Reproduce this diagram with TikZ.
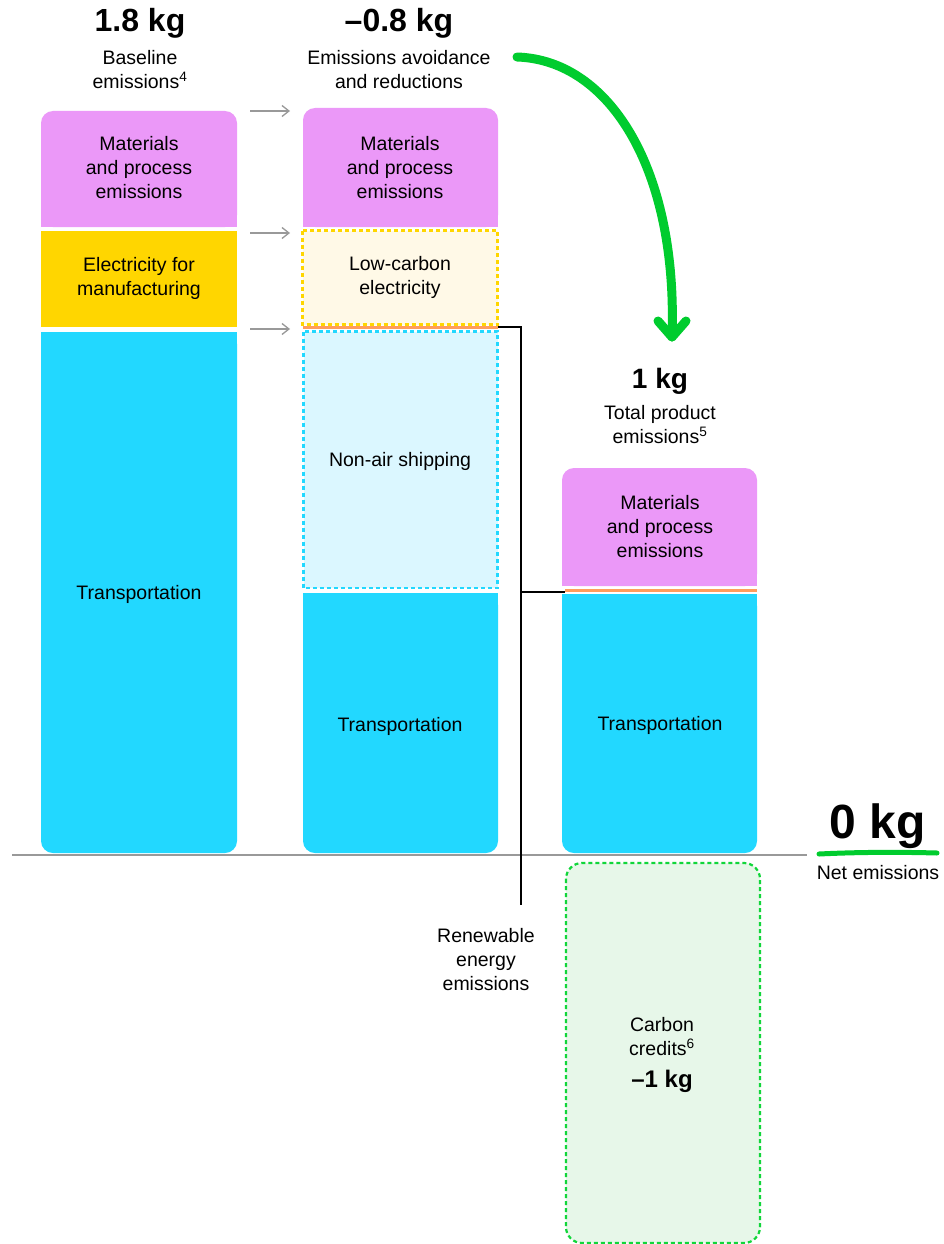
\documentclass[tikz,border=0pt]{standalone}
\usepackage{fontspec}
\setmainfont{Liberation Sans}
\usetikzlibrary{arrows.meta}
\definecolor{pinkc}{HTML}{EB98F8}
\definecolor{yellowc}{HTML}{FFD600}
\definecolor{cyanc}{HTML}{22D8FF}
\definecolor{lyellow}{HTML}{FFF9E7}
\definecolor{lcyan}{HTML}{DBF7FF}
\definecolor{orangec}{HTML}{FF9D5C}
\definecolor{greenc}{HTML}{00CC2E}
\definecolor{lgreen}{HTML}{E7F7E9}
\definecolor{dgreen}{HTML}{11D63A}
\definecolor{grayc}{HTML}{999999}
\begin{document}
\begin{tikzpicture}[x=1pt,y=-1pt,
  lbl/.style={align=center,font=\fontsize{19.5}{24}\selectfont,text=black,inner sep=0pt},
  hdr/.style={align=center,font=\fontsize{32}{36}\bfseries\selectfont,inner sep=0pt},
  sub/.style={align=center,font=\fontsize{19.5}{24}\selectfont,inner sep=0pt},
  grayarrow/.style={draw=grayc,line width=1.3,-{Straight Barb[length=7,width=11]}},
  bracket/.style={draw=black,line width=1.3},
  dashbox/.style={line width=2.2,dash pattern=on 4 off 3}]
\useasboundingbox (0,0) rectangle (943,1244);
\fill[white] (0,0) rectangle (943,1244);

% ---- column 1 ----
\fill[pinkc,rounded corners=12] (41,111) rectangle (237,227);
\fill[pinkc] (41,150) rectangle (237,227);
\fill[yellowc] (41,231) rectangle (237,327);
\fill[cyanc,rounded corners=12] (41,332) rectangle (237,853);
\fill[cyanc] (41,332) rectangle (237,800);
\node[lbl] (m1) at (139,168) {Materials\\and process\\emissions};
\node[lbl] (e1) at (139,278) {Electricity for\\manufacturing};
\node[lbl] (t1) at (139,594) {Transportation};

% ---- column 2 ----
\fill[pinkc,rounded corners=12] (303,108) rectangle (498,227);
\fill[pinkc] (303,150) rectangle (498,227);
\filldraw[fill=lyellow,draw=yellowc,dashbox] (302.5,230.5) rectangle (497.5,324.5);
\fill[orangec] (303,325.5) rectangle (498,328.5);
\filldraw[fill=lcyan,draw=cyanc,dashbox] (303.5,331.5) rectangle (497.5,588);
\fill[cyanc,rounded corners=12] (303,593) rectangle (498,853);
\fill[cyanc] (303,593) rectangle (498,800);
\node[lbl] (m2) at (400,168) {Materials\\and process\\emissions};
\node[lbl] (l2) at (400,277) {Low-carbon\\electricity};
\node[lbl] (n2) at (400,461) {Non-air shipping};
\node[lbl] (t2) at (400,726) {Transportation};

% ---- column 3 ----
\fill[pinkc,rounded corners=12] (562,468) rectangle (757,586);
\fill[pinkc] (562,510) rectangle (757,586);
\fill[orangec] (565,589) rectangle (757,592);
\fill[cyanc,rounded corners=12] (562,594) rectangle (757,853);
\fill[cyanc] (562,594) rectangle (757,800);
\node[lbl] (m3) at (660,527) {Materials\\and process\\emissions};
\node[lbl] (t3) at (660,725) {Transportation};

% ---- carbon credits ----
\filldraw[fill=lgreen,draw=dgreen,dashbox,rounded corners=16] (566,863) rectangle (760,1243);
\node[lbl] (cc) at (662,1037) {Carbon\\credits\textsuperscript{6}};
\node[inner sep=0pt,font=\fontsize{24}{28}\bfseries\selectfont] (cckg) at (662,1081) {–1 kg};

% ---- baseline ----
\coordinate (bl0) at (12,855);
\coordinate (bl1) at (807,855);
\draw[grayc,line width=1.3] (bl0) -- (bl1);

% ---- headers ----
\node[hdr] (h1) at (140,23) {1.8 kg};
\node[sub] (s1) at (140,70) {Baseline\\emissions\textsuperscript{4}};
\node[hdr] (h2) at (399,23) {–0.8 kg};
\node[sub] (s2) at (399,70) {Emissions avoidance\\and reductions};
\node[inner sep=0pt,font=\fontsize{28}{32}\bfseries\selectfont] (h3) at (660,381) {1 kg};
\node[sub] (s3) at (660,425) {Total product\\emissions\textsuperscript{5}};

% ---- 0 kg ----
\node[inner sep=0pt,font=\fontsize{48}{52}\bfseries\selectfont] (zero) at (878,826) {0 kg};
\coordinate (u0) at (819,854);
\coordinate (u1) at (937,853);
\draw[greenc,line width=5,line cap=round] (u0) .. controls (860,852) and (900,852) .. (u1);
\node[inner sep=0pt,font=\fontsize{19.5}{22}\selectfont] (net) at (878,873) {Net emissions};

% ---- gray arrows ----
\foreach \yy/\nm in {111/a,233/b,329/c}{
  \coordinate (ga\nm) at (250,\yy);
  \coordinate (gb\nm) at (290,\yy);
  \draw[grayarrow] (ga\nm) -- (gb\nm);
}

% ---- renewable bracket ----
\coordinate (or2) at (498,327);
\coordinate (br1) at (521,327);
\coordinate (br2) at (521,592);
\coordinate (br3) at (521,905);
\coordinate (or3) at (565,592);
\draw[bracket] (or2) -- (br1) -- (br3);
\draw[bracket] (br2) -- (or3);
\node[lbl] (ren) at (486,960) {Renewable\\energy\\emissions};

% ---- green curved arrow ----
\coordinate (g0) at (517,57);
\coordinate (g1) at (672,337);
\draw[greenc,line width=9,line cap=round] (g0) .. controls (610,60) and (678,170) .. (g1);
\draw[greenc,line width=9,line cap=round,line join=round] (658,321) -- (g1) -- (686,321);
\end{tikzpicture}
\end{document}
